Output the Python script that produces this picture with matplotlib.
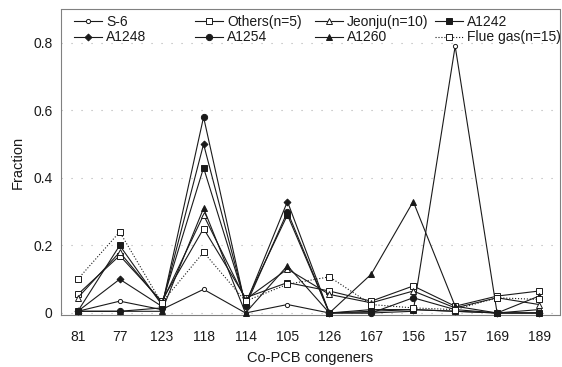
import numpy as np
import matplotlib
matplotlib.use("Agg")
import matplotlib.pyplot as plt

plt.rcParams['font.family'] = ['Liberation Sans', 'DejaVu Sans']

congeners = ["81", "77", "123", "118", "114", "105", "126", "167", "156", "157", "169", "189"]

s6       = [0.005, 0.035, 0.010, 0.070, 0.000, 0.025, 0.000, 0.000, 0.005, 0.790, 0.000, 0.010]
others   = [0.055, 0.170, 0.035, 0.250, 0.045, 0.090, 0.065, 0.035, 0.080, 0.020, 0.050, 0.065]
jeonju   = [0.045, 0.180, 0.030, 0.290, 0.040, 0.130, 0.055, 0.030, 0.065, 0.015, 0.045, 0.025]
a1242    = [0.005, 0.200, 0.025, 0.430, 0.030, 0.290, 0.000, 0.010, 0.010, 0.005, 0.000, 0.000]
a1248    = [0.005, 0.100, 0.020, 0.500, 0.025, 0.330, 0.000, 0.005, 0.010, 0.005, 0.000, 0.000]
a1254    = [0.005, 0.005, 0.015, 0.580, 0.020, 0.300, 0.000, 0.000, 0.045, 0.010, 0.000, 0.000]
a1260    = [0.005, 0.005, 0.005, 0.310, 0.000, 0.140, 0.000, 0.115, 0.330, 0.020, 0.000, 0.050]
fluegas  = [0.100, 0.240, 0.030, 0.180, 0.035, 0.085, 0.107, 0.025, 0.015, 0.010, 0.045, 0.040]

x = np.arange(len(congeners))
ink = "#1a1a1a"

fig = plt.figure(figsize=(5.62, 3.67), dpi=100)
ax = fig.add_axes([61/562, 1 - 315/367, (560 - 61)/562, (315 - 9)/367])

# (data, label, marker, filled, size, linestyle)
series = [
    (s6, "S-6", "o", False, 3.0, "-"),
    (others, "Others(n=5)", "s", False, 3.8, "-"),
    (jeonju, "Jeonju(n=10)", "^", False, 4.0, "-"),
    (a1242, "A1242", "s", True, 4.0, "-"),
    (a1248, "A1248", "D", True, 3.5, "-"),
    (a1254, "A1254", "o", True, 4.5, "-"),
    (a1260, "A1260", "^", True, 4.5, "-"),
    (fluegas, "Flue gas(n=15)", "s", False, 3.8, ":"),
]

handles = {}
for vals, lab, mk, filled, ms, ls in series:
    h, = ax.plot(x, vals, linestyle=ls, color=ink, lw=0.8, marker=mk, ms=ms,
                 mfc=ink if filled else "white", mec=ink, mew=0.7,
                 label=lab, clip_on=False, zorder=3)
    handles[lab] = h

ax.set_xlim(-0.4, 11.5)
ax.set_ylim(-0.006, 0.9)
ax.set_xticks(x)
ax.set_xticklabels(congeners)
ax.set_yticks([0, 0.2, 0.4, 0.6, 0.8])
ax.set_yticklabels(["0", "0.2", "0.4", "0.6", "0.8"])
ax.tick_params(axis="both", length=0, labelsize=10, colors=ink)
ax.tick_params(axis="x", pad=11)
ax.tick_params(axis="y", pad=6)

ax.yaxis.grid(True, color="#b0b0b0", linestyle=(0, (1, 8)), lw=0.8)
ax.set_axisbelow(True)
for sp in ax.spines.values():
    sp.set_color("#808080")
    sp.set_linewidth(0.8)
    sp.set_linestyle((0, (2, 1)))

ax.set_xlabel("Co-PCB congeners", fontsize=10.5, color=ink, labelpad=5)
ax.set_ylabel("Fraction", fontsize=10.5, color=ink, labelpad=6)

# legend laid out in four separate columns, as in the original
cols = [(["S-6", "A1248"], 74), (["Others(n=5)", "A1254"], 195),
        (["Jeonju(n=10)", "A1260"], 315), (["A1242", "Flue gas(n=15)"], 435)]
for labs, px in cols:
    leg = fig.legend([handles[l] for l in labs], labs, loc="upper left",
                     bbox_to_anchor=(px/562, 1 - 15/367), frameon=False,
                     fontsize=10, handlelength=2.0, handletextpad=0.3,
                     borderpad=0, borderaxespad=0, labelspacing=0.1)
    for t in leg.get_texts():
        t.set_color(ink)

fig.savefig("out.png", dpi=100)
